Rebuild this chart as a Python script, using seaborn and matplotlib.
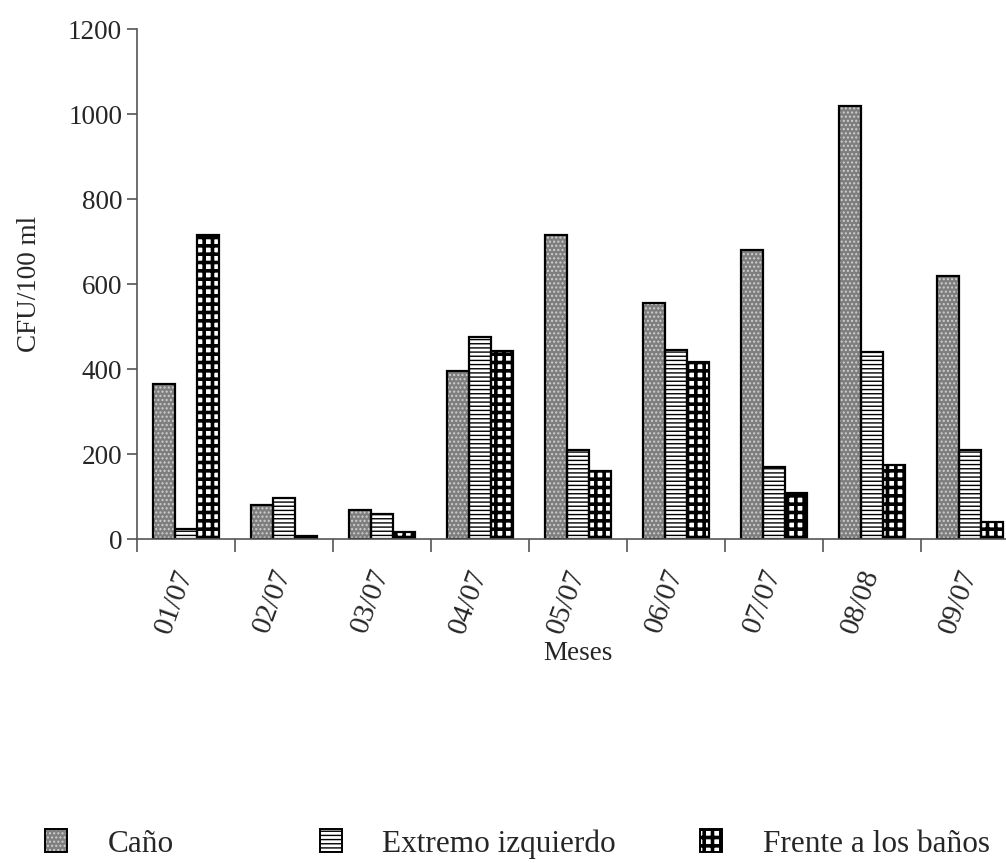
import numpy as np
import pandas as pd
import matplotlib
matplotlib.use("Agg")
import matplotlib.pyplot as plt
import matplotlib.patches as mpatches
from matplotlib.legend_handler import HandlerTuple
import seaborn as sns

meses = ["01/07", "02/07", "03/07", "04/07", "05/07", "06/07", "07/07", "08/08", "09/07"]
cano = [365, 80, 70, 395, 715, 555, 680, 1020, 620]
extremo = [25, 98, 60, 475, 210, 445, 170, 440, 210]
frente = [715, 8, 18, 444, 160, 418, 110, 175, 40]

series = ["Caño", "Extremo izquierdo", "Frente a los baños"]
faces = ["#7e7e7e", "white", "white"]
hatch_cols = ["#cfcfcf", "black", "black"]
hatches = ["....", "----", "++"]
hatch_lw = [1.0, 1.0, 2.6]

df = pd.DataFrame({
    "mes": meses * 3,
    "valor": cano + extremo + frente,
    "serie": [series[0]] * 9 + [series[1]] * 9 + [series[2]] * 9,
})

sns.set_style("white")
plt.rcParams["font.family"] = ["Liberation Serif", "DejaVu Serif"]
plt.rcParams["hatch.linewidth"] = 1.0

fig = plt.figure(figsize=(10.06, 8.63), dpi=100)
ax = fig.add_axes([0.136, 0.375, 0.877, 0.591])

sns.barplot(data=df, x="mes", y="valor", hue="serie", hue_order=series,
            palette=dict(zip(series, faces)), width=0.68, ax=ax,
            linewidth=0, legend=False, errorbar=None)


def style_patch(p, fc, h, hc, lw):
    p.set_hatch(h)
    p.set_facecolor(fc)
    p.set_edgecolor(hc)
    p.set_linewidth(0)
    if hasattr(p, "set_hatch_linewidth"):
        p.set_hatch_linewidth(lw)


# hatch colour follows edge colour, so draw the black outline as a second layer
for cont, fc, h, hc, lw in zip(ax.containers, faces, hatches, hatch_cols, hatch_lw):
    for p in cont:
        style_patch(p, fc, h, hc, lw)
        ax.add_patch(mpatches.Rectangle(p.get_xy(), p.get_width(), p.get_height(),
                                        fill=False, edgecolor="black", linewidth=1.6))

ax.set_ylim(0, 1200)
ax.set_yticks(range(0, 1201, 200))
ax.set_xlim(-0.5, 8.5)
ax.set_xticks(np.arange(-0.5, 9, 1))
ax.set_xticklabels([])
ax.set_xticks(range(9), minor=True)
ax.set_xticklabels(meses, minor=True, rotation=70, ha="right", va="center",
                   rotation_mode="anchor", fontsize=21)
ax.tick_params(axis="x", which="minor", length=0, pad=22)
ax.tick_params(axis="x", which="major", length=9, direction="out", color="#555555", width=1.2)
ax.tick_params(axis="y", length=7, direction="out", color="#555555", width=1.2, labelsize=19.5)
ax.tick_params(left=True, bottom=True)

for s in ["top", "right"]:
    ax.spines[s].set_visible(False)
for s in ["left", "bottom"]:
    ax.spines[s].set_color("#555555")
    ax.spines[s].set_linewidth(1.2)

ax.set_xlabel("Meses", fontsize=19.5, labelpad=3)
ax.set_ylabel("CFU/100 ml", fontsize=19.5, labelpad=19)

# three legend entries, placed like the spreadsheet legend
legend_x = [0.045, 0.318, 0.696]
for name, fc, h, hc, lw, lx in zip(series, faces, hatches, hatch_cols, hatch_lw, legend_x):
    with plt.rc_context({"hatch.linewidth": lw}):
        fill = mpatches.Patch()
        style_patch(fill, fc, h, hc, lw)
        edge = mpatches.Patch(fill=False, edgecolor="black", linewidth=1.4)
        fig.legend([(fill, edge)], [name], handler_map={tuple: HandlerTuple(ndivide=1, pad=0)},
                   loc="center left", bbox_to_anchor=(lx, 0.022), frameon=False,
                   fontsize=22.5, handlelength=0.7, handleheight=0.75,
                   handletextpad=1.3, borderpad=0, borderaxespad=0)

fig.savefig("out.png", dpi=100)
